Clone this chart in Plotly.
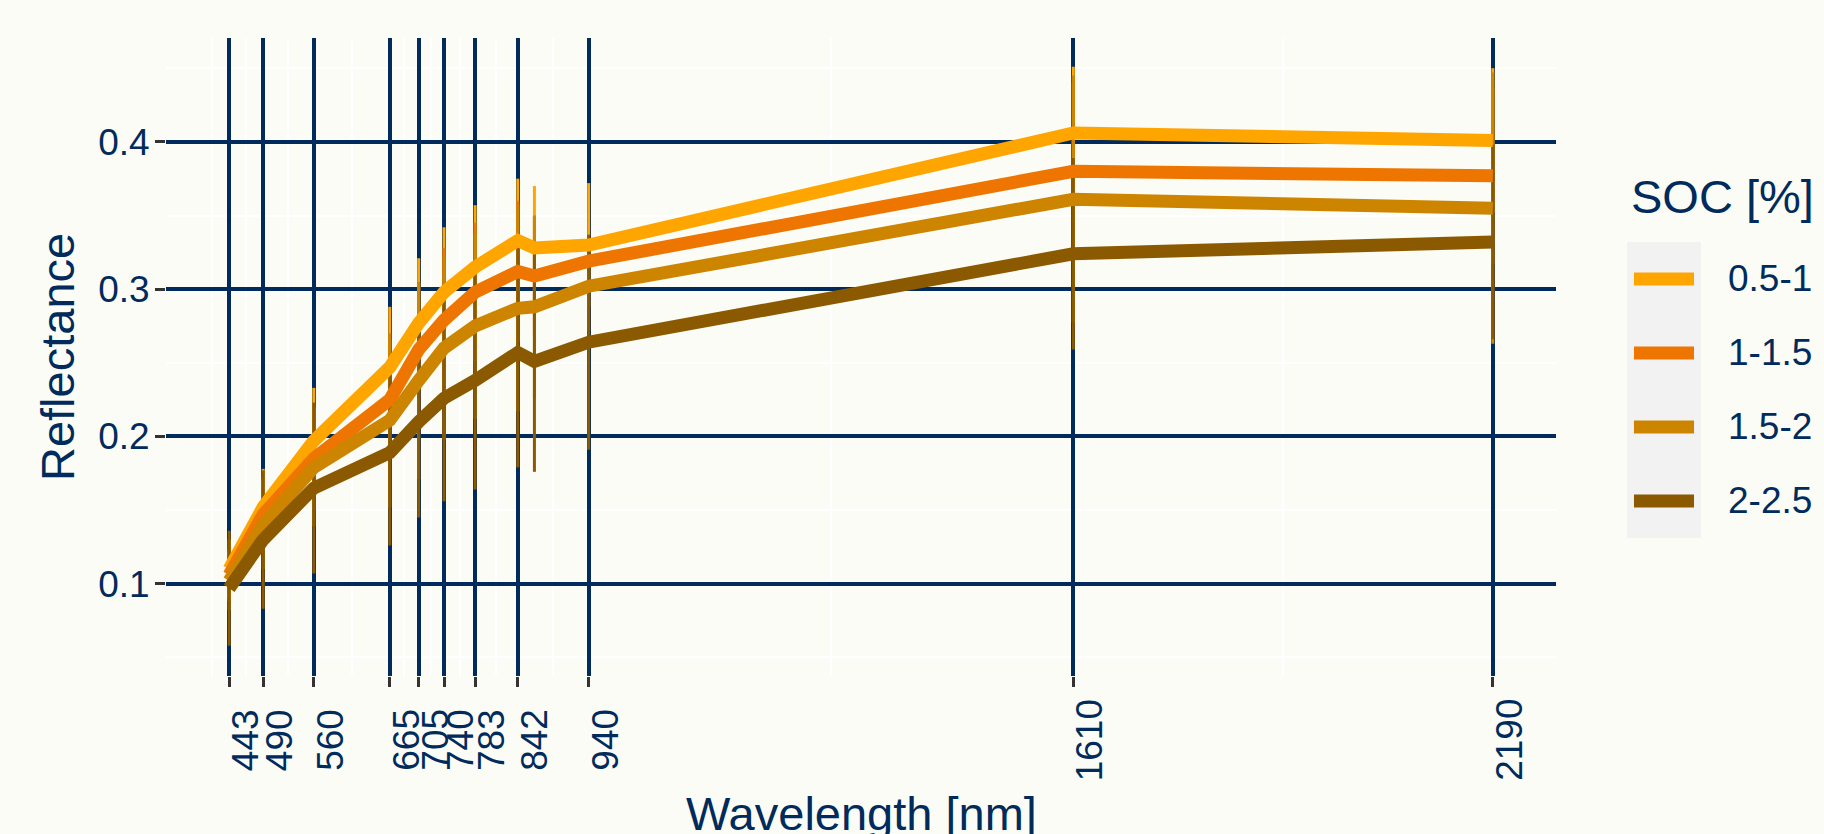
import plotly.graph_objects as go

# ---------------- data ----------------
wavelengths = [443, 490, 560, 665, 705, 740, 783, 842, 865, 940, 1610, 2190]
tick_wavelengths = [443, 490, 560, 665, 705, 740, 783, 842, 940, 1610, 2190]
soc_classes = ["0.5-1", "1-1.5", "1.5-2", "2-2.5"]
colors = ["#FFA500", "#EE7600", "#CD8500", "#8B5A00"]

refl_05_1 = [0.110, 0.152, 0.197, 0.247, 0.277, 0.298, 0.315, 0.333, 0.328, 0.330, 0.406, 0.401]
refl_1_15 = [0.106, 0.147, 0.185, 0.225, 0.259, 0.279, 0.298, 0.312, 0.309, 0.319, 0.380, 0.377]
refl_15_2 = [0.102, 0.140, 0.179, 0.211, 0.238, 0.260, 0.275, 0.287, 0.288, 0.302, 0.361, 0.355]
refl_2_25 = [0.097, 0.130, 0.165, 0.189, 0.210, 0.226, 0.238, 0.257, 0.251, 0.264, 0.324, 0.332]

sd_05_1 = [0.020, 0.026, 0.036, 0.041, 0.044, 0.044, 0.042, 0.042, 0.042, 0.042, 0.045, 0.049]
sd_1_15 = [0.018, 0.025, 0.035, 0.040, 0.045, 0.049, 0.047, 0.048, 0.040, 0.015, 0.060, 0.060]
sd_15_2 = [0.020, 0.030, 0.040, 0.059, 0.067, 0.062, 0.063, 0.070, 0.062, 0.030, 0.084, 0.092]
sd_2_25 = [0.039, 0.047, 0.058, 0.063, 0.065, 0.070, 0.074, 0.078, 0.075, 0.073, 0.065, 0.066]

y_ticks = [0.1, 0.2, 0.3, 0.4]
y_minor = [0.05, 0.15, 0.25, 0.35, 0.45]
x_minor = [419.5, 466.5, 525, 612.5, 685, 722.5, 761.5, 812.5, 891, 1275, 1900]

means = [refl_05_1, refl_1_15, refl_15_2, refl_2_25]
sds = [sd_05_1, sd_1_15, sd_15_2, sd_2_25]

# ---------------- style ----------------
NAVY = "#002B5C"
BG = "#FBFCF5"
FONT = "Liberation Sans, Arial, sans-serif"
TICK_SIZE = 37
TITLE_SIZE = 47

fig = go.Figure()

# error bars first (beneath all lines)
for name, col, m, s in zip(soc_classes, colors, means, sds):
    fig.add_trace(go.Scatter(
        x=wavelengths, y=m, mode="markers",
        marker=dict(size=0.1, color=col, opacity=0),
        error_y=dict(type="data", array=s, symmetric=True, color=col,
                     thickness=3, width=0),
        showlegend=False, hoverinfo="skip"))

# mean spectra
for name, col, m in zip(soc_classes, colors, means):
    fig.add_trace(go.Scatter(
        x=wavelengths, y=m, mode="lines", name=name,
        line=dict(color=col, width=13), showlegend=False))

# ---------------- axes ----------------
fig.update_xaxes(
    range=[355.65, 2277.35], tickmode="array", tickvals=tick_wavelengths,
    showticklabels=False, ticks="outside", ticklen=10, tickwidth=3,
    tickcolor="#333333", showgrid=True, gridcolor=NAVY, gridwidth=3.5,
    zeroline=False, showline=False,
    minor=dict(tickmode="array", tickvals=x_minor, showgrid=True,
               gridcolor="#FFFFFF", gridwidth=1.5, ticks=""))
fig.update_yaxes(
    range=[0.0374, 0.4705], tickmode="array", tickvals=y_ticks,
    ticktext=[f"{v:.1f}" for v in y_ticks],
    ticks="outside", ticklen=10, tickwidth=3, tickcolor="#333333",
    tickfont=dict(size=TICK_SIZE, color=NAVY, family=FONT),
    ticklabelstandoff=-2,
    showgrid=True, gridcolor=NAVY, gridwidth=3.5, zeroline=False, showline=False,
    minor=dict(tickmode="array", tickvals=y_minor, showgrid=True,
               gridcolor="#FFFFFF", gridwidth=1.5, ticks=""))

annotations = []
# x tick labels (rotated, centred vertically like ggplot)
for wl in tick_wavelengths:
    annotations.append(dict(
        x=wl, xref="x", y=-0.1003, yref="paper", text=str(wl),
        textangle=-90, showarrow=False, xanchor="center", yanchor="middle",
        xshift=17, font=dict(size=TICK_SIZE, color=NAVY, family=FONT)))
# axis titles
annotations.append(dict(
    x=0.5, xref="paper", y=-0.2163, yref="paper", text="Wavelength [nm]",
    showarrow=False, xanchor="center", yanchor="middle",
    font=dict(size=TITLE_SIZE, color=NAVY, family=FONT)))
annotations.append(dict(
    x=-0.0784, xref="paper", y=0.5, yref="paper", text="Reflectance",
    textangle=-90, showarrow=False, xanchor="center", yanchor="middle",
    font=dict(size=TITLE_SIZE, color=NAVY, family=FONT)))

# ---------------- legend (ggplot style) ----------------
shapes = [dict(type="rect", xref="paper", yref="paper",
               x0=1.0511, x1=1.1043, y0=0.2163, y1=0.6803,
               fillcolor="#F2F2F2", line=dict(width=0), layer="below")]
row_y = [0.6223, 0.5063, 0.3903, 0.2743]
for name, col, ry in zip(soc_classes, colors, row_y):
    shapes.append(dict(type="line", xref="paper", yref="paper",
                       x0=1.0561, x1=1.0993, y0=ry, y1=ry,
                       line=dict(color=col, width=13)))
    annotations.append(dict(
        x=1.1223, xref="paper", y=ry, yref="paper", text=name,
        showarrow=False, xanchor="left", yanchor="middle",
        font=dict(size=TICK_SIZE, color=NAVY, family=FONT)))
annotations.append(dict(
    x=1.0525, xref="paper", y=0.7508, yref="paper", text="SOC [%]",
    showarrow=False, xanchor="left", yanchor="middle",
    font=dict(size=TITLE_SIZE, color=NAVY, family=FONT)))

fig.update_layout(
    width=1824, height=834,
    margin=dict(l=166, r=268, t=38, b=158, autoexpand=False),
    paper_bgcolor=BG, plot_bgcolor=BG,
    font=dict(family=FONT, color=NAVY),
    annotations=annotations, shapes=shapes, showlegend=False)

fig.write_html(
    "out.html",
    config={"displayModeBar": False},
    post_script=("document.body.style.margin='0';"
                 "document.body.style.background='" + BG + "';"
                 "document.body.style.overflow='hidden';"))
